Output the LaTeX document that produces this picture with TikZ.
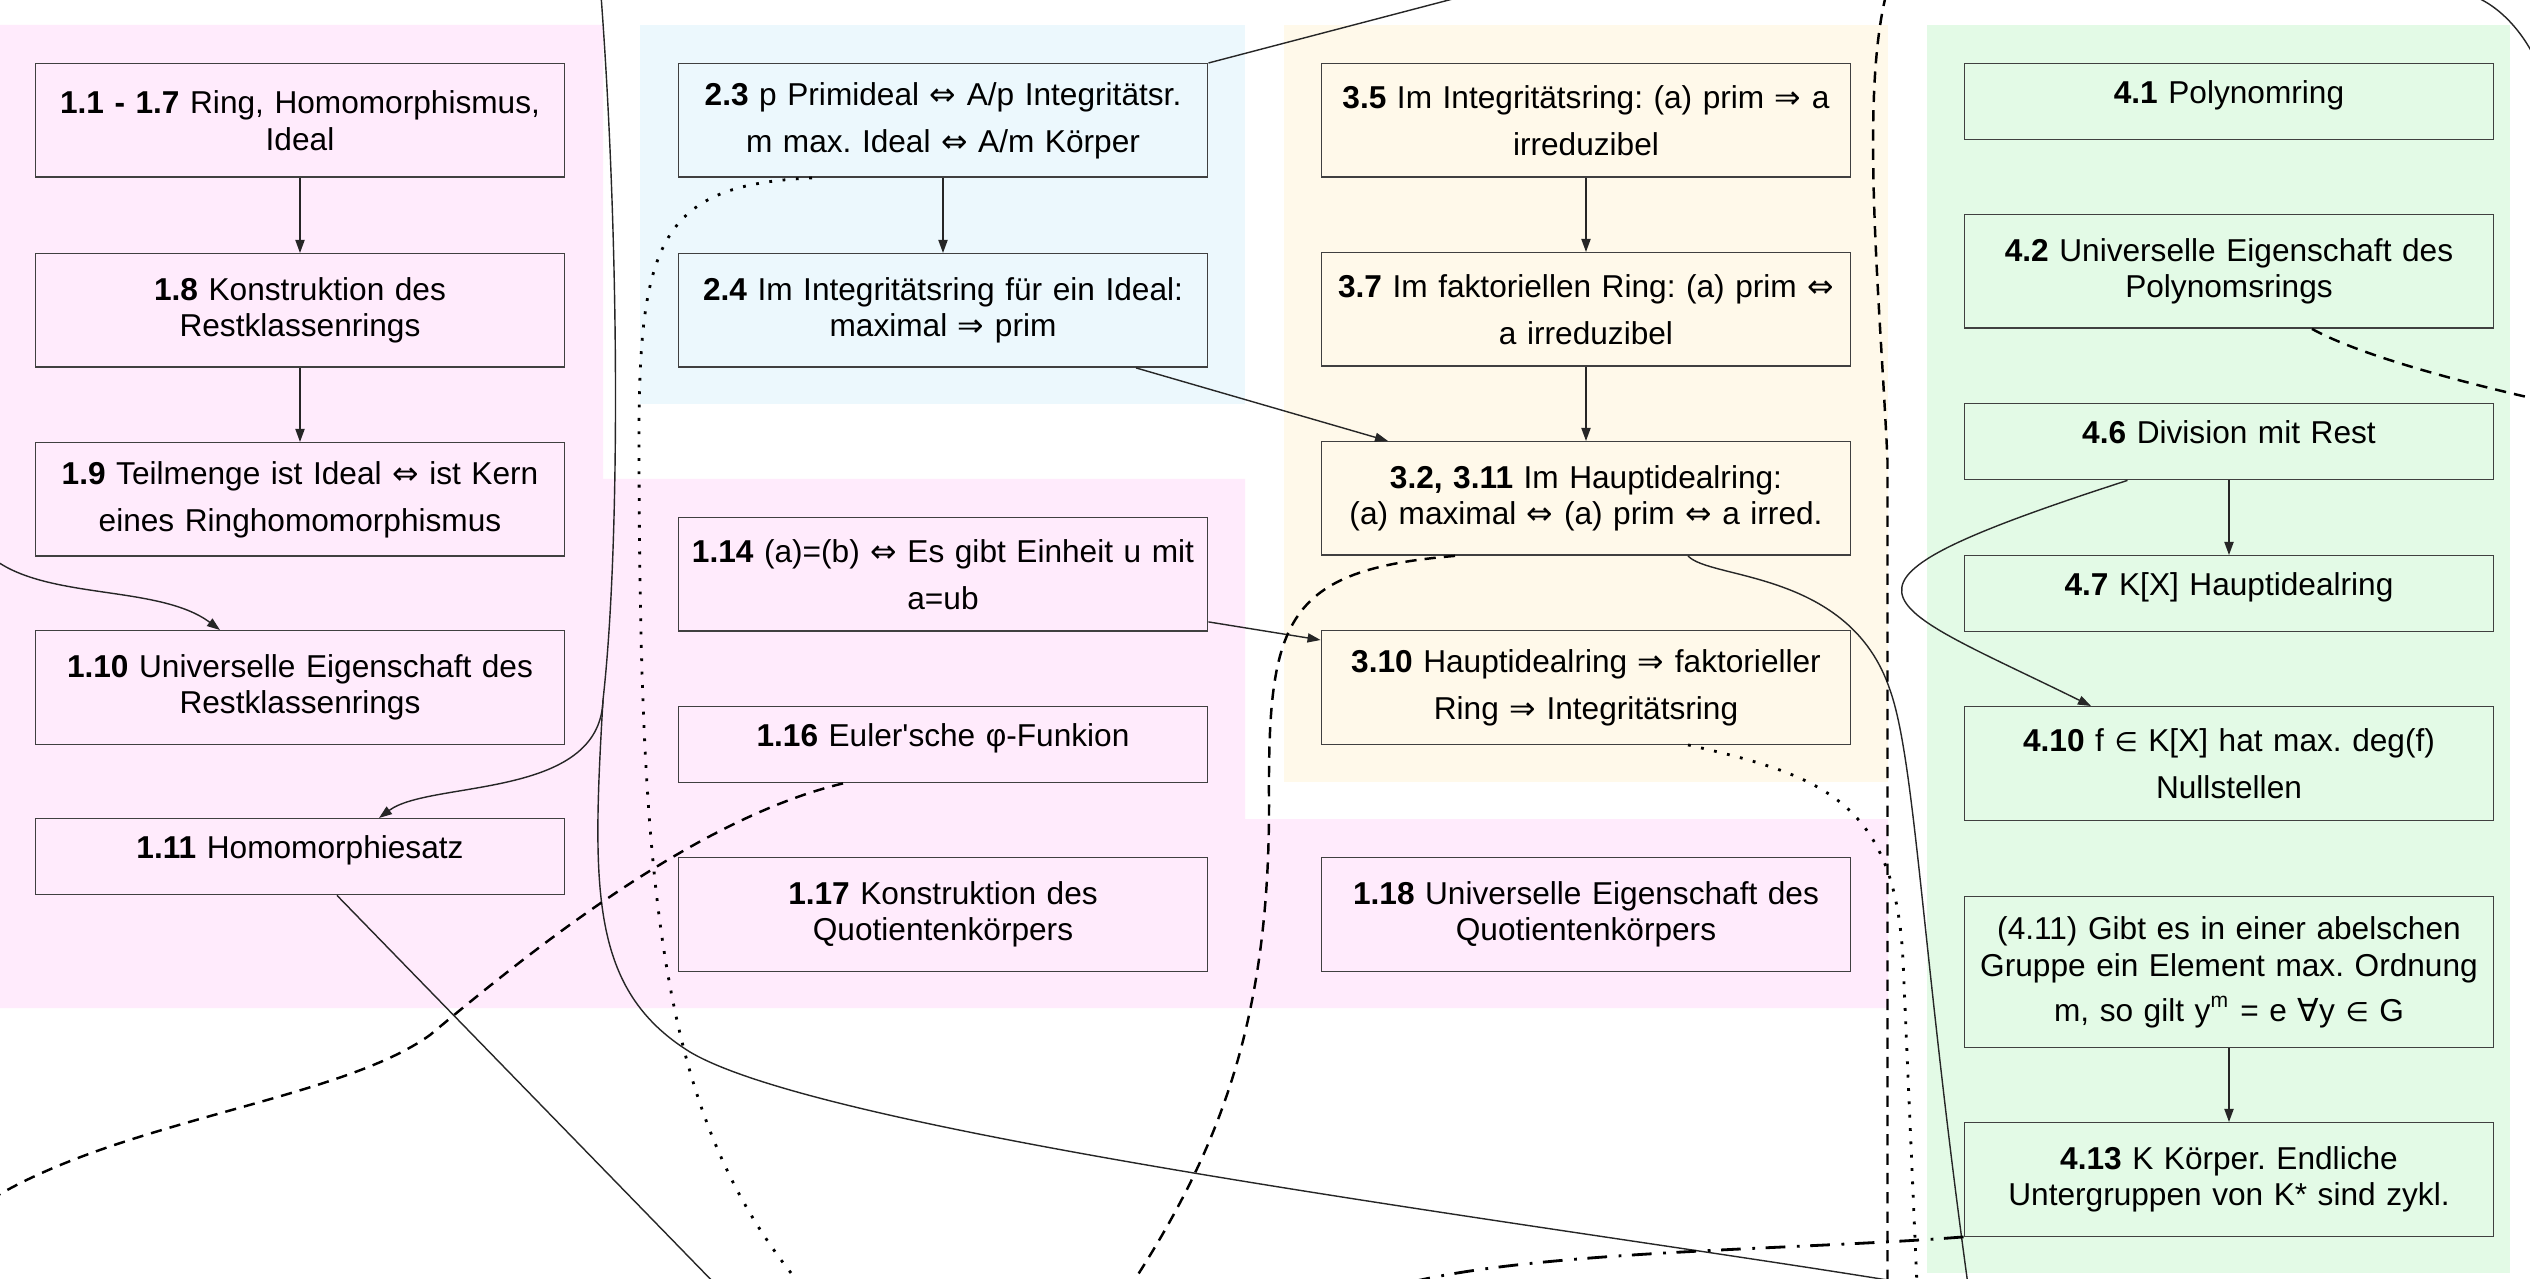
\documentclass[tikz,border=0pt]{standalone}
\usepackage{fontspec}
\newfontfamily\mapfont{Liberation Sans}
\newfontfamily\symfont{DejaVu Sans}
\newcommand{\symeqv}{{\symfont ⇔}}
\newcommand{\symimp}{{\symfont ⇒}}
\newcommand{\symin}{{\symfont\fontsize{7.6}{9}\selectfont ∈}}
\newcommand{\symall}{{\symfont ∀}}
\definecolor{mappink}{RGB}{255,235,252}
\definecolor{mapblue}{RGB}{236,248,253}
\definecolor{mapcream}{RGB}{255,249,234}
\definecolor{mapgreen}{RGB}{227,250,230}
\tikzset{every picture/.style={/utils/exec={\mapfont\frenchspacing}}}
\usetikzlibrary{arrows.meta}

\begin{document}
\begin{tikzpicture}[
  thm/.style={draw=black!75, thin, anchor=north, text width=5.295cm, inner xsep=0pt, inner ysep=0pt, align=center, font=\fontsize{9}{10.4}\selectfont},
  thmtall/.style={thm, minimum height=1.135cm},
  thmshort/.style={thm, minimum height=0.76cm, text depth=5.5pt},
  thmhigh/.style={thm, minimum height=1.51cm},
  link/.style={black!85, thin},
  dashline/.style={black, line width=0.7pt, dash pattern=on 3.2pt off 2.3pt},
  dotline/.style={black, line width=0.8pt, dash pattern=on 0.8pt off 3pt},
  dashdotline/.style={black, line width=0.8pt, dash pattern=on 5.6pt off 3pt on 0.8pt off 3.3pt},
  >={Triangle[length=3.7pt,width=2.6pt]}
]

  \useasboundingbox (0,0) rectangle (25.3,-12.79);
  \clip (0,0) rectangle (25.3,-12.79);
  \fill [white] (0,0) rectangle (25.3,-12.79);

  % background of the chapters:
  \fill [mappink] (-0.1,-0.25) -- (6.03,-0.25) -- (6.03,-4.79) -- (12.45,-4.79) -- (12.45,-8.19) -- (18.88,-8.19) -- (18.88,-10.08) -- (-0.1,-10.08) -- cycle;
  \fill [mapblue] (6.40,-0.25) rectangle (12.45,-4.04);
  \fill [mapcream] (12.835,-0.25) rectangle (18.88,-7.82);
  \fill [mapgreen] (19.27,-0.25) rectangle (25.10,-12.73);

  % chapter 1:
  \node [thmtall] (n11) at (3.00,-0.63) {\textbf{1.1 - 1.7} Ring, Homomorphismus,\\ Ideal};
  \node [thmtall] (n18) at (3.00,-2.53) {\textbf{1.8} Konstruktion des\\ Restklassenrings};
  \node [thmtall] (n19) at (3.00,-4.42) {\textbf{1.9} Teilmenge ist Ideal \symeqv{} ist Kern\\[3pt] eines Ringhomomorphismus};
  \node [thmtall] (n110) at (3.00,-6.30) {\textbf{1.10} Universelle Eigenschaft des\\ Restklassenrings};
  \node [thmshort] (n111) at (3.00,-8.18) {\textbf{1.11} Homomorphiesatz};

  % chapter 2 and the rest of 1:
  \node [thmtall] (n23) at (9.43,-0.63) {\textbf{2.3} p Primideal \symeqv{} A/p Integritätsr.\\[3pt] m max. Ideal \symeqv{} A/m Körper};
  \node [thmtall] (n24) at (9.43,-2.53) {\textbf{2.4} Im Integritätsring für ein Ideal:\\ maximal \symimp{} prim};
  \node [thmtall] (n114) at (9.43,-5.17) {\textbf{1.14} (a)=(b) \symeqv{} Es gibt Einheit u mit\\[3pt] a=ub};
  \node [thmshort] (n116) at (9.43,-7.06) {\textbf{1.16} Euler'sche φ-Funkion};
  \node [thmtall] (n117) at (9.43,-8.57) {\textbf{1.17} Konstruktion des\\ Quotientenkörpers};

  % chapter 3:
  \node [thmtall] (n35) at (15.86,-0.63) {\textbf{3.5} Im Integritätsring: (a) prim \symimp{} a\\[3pt] irreduzibel};
  \node [thmtall] (n37) at (15.86,-2.52) {\textbf{3.7} Im faktoriellen Ring: (a) prim \symeqv\\[3pt] a irreduzibel};
  \node [thmtall] (n32) at (15.86,-4.41) {\textbf{3.2, 3.11} Im Hauptidealring:\\ (a) maximal \symeqv{} (a) prim \symeqv{} a irred.};
  \node [thmtall] (n310) at (15.86,-6.30) {\textbf{3.10} Hauptidealring \symimp{} faktorieller\\[3pt] Ring \symimp{} Integritätsring};
  \node [thmtall] (n118) at (15.86,-8.57) {\textbf{1.18} Universelle Eigenschaft des\\ Quotientenkörpers};

  % chapter 4:
  \node [thmshort] (n41) at (22.29,-0.63) {\textbf{4.1} Polynomring};
  \node [thmtall] (n42) at (22.29,-2.14) {\textbf{4.2} Universelle Eigenschaft des\\ Polynomsrings};
  \node [thmshort] (n46) at (22.29,-4.03) {\textbf{4.6} Division mit Rest};
  \node [thmshort] (n47) at (22.29,-5.55) {\textbf{4.7} K[X] Hauptidealring};
  \node [thmtall] (n410) at (22.29,-7.06) {\textbf{4.10} f \symin{} K[X] hat max. deg(f)\\[3pt] Nullstellen};
  \node [thmhigh] (n411) at (22.29,-8.96) {(4.11) Gibt es in einer abelschen\\ Gruppe ein Element max. Ordnung\\[2.4pt] m, so gilt y\textsuperscript{m} = e \symall{}y \symin{} G};
  \node [thmtall] (n413) at (22.29,-11.22) {\textbf{4.13} K Körper. Endliche\\ Untergruppen von K* sind zykl.};

  % arrows inside the columns:
  \foreach \a/\b in {n11/n18,n18/n19,n23/n24,n35/n37,n37/n32,n46/n47,n411/n413}
    \draw [link, ->] (\a) -- (\b);

  % straight links:
  \draw [link, ->] ([xshift=1.93cm]n24.south) -- ([xshift=-1.98cm]n32.north);
  \draw [link, ->] ([yshift=0.10cm]n114.south east) -- ([yshift=-0.10cm]n310.north west);
  \coordinate (top2) at (14.68,0.05);
  \draw [link] (n23.north east) -- (top2);
  \coordinate (bot2) at (7.21,-12.9);
  \draw [link] ([xshift=0.37cm]n111.south) -- (bot2);

  % curved links:
  \coordinate (lft) at (-0.05,-5.6);
  \draw [link, ->] (lft) .. controls (0.5,-6.0) and (1.6,-5.85) .. ([xshift=-0.8cm]n110.north);
  \coordinate (topa) at (6.01,0.05);
  \coordinate (fork) at (6.03,-7.0);
  \draw [link] (topa) .. controls (6.2,-2.5) and (6.2,-5.5) .. (fork);
  \draw [link, ->] (fork) .. controls (6.0,-8.0) and (4.3,-7.8) .. ([xshift=0.79cm]n111.north);
  \coordinate (bot1) at (19.0,-12.82);
  \draw [link] (fork) .. controls (5.92,-8.9) and (5.9,-9.9) .. (6.9,-10.52) .. controls (8.3,-11.35) and (15.5,-12.25) .. (bot1);
  \coordinate (bot3) at (19.68,-12.85);
  \draw [link] ([xshift=1.02cm]n32.south) .. controls (17.1,-5.8) and (18.5,-5.7) .. (18.9,-6.9) .. controls (19.15,-7.6) and (19.22,-9.5) .. (bot3);
  \draw [link, ->] ([xshift=-1.015cm]n46.south) .. controls (17.95,-5.88) and (18.74,-5.99) .. ([xshift=-1.38cm]n410.north);
  \coordinate (top4) at (24.6,0.08);
  \coordinate (rgt2) at (25.42,-0.75);
  \draw [link] (top4) .. controls (25.0,0) and (25.3,-0.4) .. (rgt2);

  % dotted links:
  \coordinate (bot4) at (8.05,-12.9);
  \draw [dotline] ([xshift=-1.31cm]n23.south) .. controls (6.6,-1.85) and (6.38,-2.4) .. (6.39,-4.5) .. controls (6.40,-9.0) and (6.6,-11.2) .. (bot4);
  \coordinate (bot6) at (19.17,-12.85);
  \draw [dotline] ([xshift=1.02cm]n310.south) .. controls (18.2,-7.75) and (18.95,-8.0) .. (19.03,-9.6) -- (bot6);

  % dashed links:
  \coordinate (lft2) at (-0.1,-12.0);
  \draw [dashline] ([xshift=-1.0cm]n116.south) .. controls (6.9,-8.2) and (5.2,-9.6) .. (4.3,-10.35) .. controls (3.4,-11.0) and (1.2,-11.2) .. (lft2);
  \coordinate (bot5) at (11.28,-12.9);
  \draw [dashline] ([xshift=-1.31cm]n32.south) .. controls (12.85,-5.7) and (12.68,-6.2) .. (12.69,-8.0) .. controls (12.70,-10.2) and (12.2,-11.5) .. (bot5);
  \coordinate (top3) at (18.86,0.05);
  \coordinate (bot7) at (18.875,-12.85);
  \draw [dashline] (top3) .. controls (18.6,-1.0) and (18.8,-3.0) .. (18.875,-4.6) -- (bot7);
  \coordinate (rgt) at (25.4,-4.0);
  \draw [dashline] ([xshift=0.83cm]n42.south) .. controls (23.5,-3.5) and (24.3,-3.75) .. (rgt);

  % dash-dotted link:
  \coordinate (bot8) at (14.0,-12.85);
  \draw [dashdotline] (n413.south west) .. controls (18,-12.5) and (15.3,-12.5) .. (bot8);

\end{tikzpicture}
\end{document}
